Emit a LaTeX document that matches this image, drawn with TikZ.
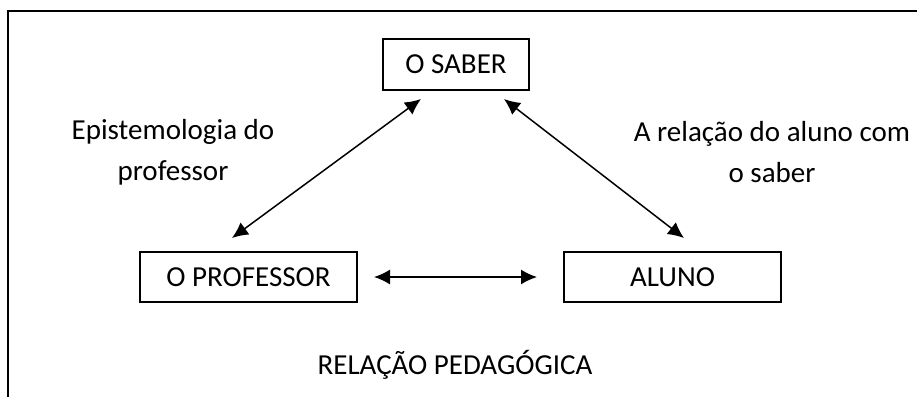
\documentclass[tikz,border=0pt]{standalone}
\usepackage{fontspec}
\setmainfont{Carlito}
\usetikzlibrary{arrows.meta}

\begin{document}
\begin{tikzpicture}
[x=1pt,y=-1pt,>={Latex[length=16pt,width=15pt]},
box/.style={draw,line width=2pt,inner sep=0pt,minimum height=50pt,minimum width=217pt},
link/.style={<->,line width=1.5pt},
font=\fontsize{29}{41}\selectfont,]

\useasboundingbox (0,0) rectangle (917,397);

%Frame (top and left edges only)
\draw[line width=2pt] (8,397) -- (8,11) -- (917,11);

%Boxes
\node (saber) at (456,64.5)[box,minimum width=146pt,minimum height=51pt] {O SABER};
\node (prof) at (248.5,277)[box] {O PROFESSOR};
\node (aluno) at (672.5,277)[box] {ALUNO};

%Arrows between the boxes
\draw[link] ([xshift=-16.5pt,yshift=13pt]prof.north) -- ([xshift=-35pt,yshift=-8pt]saber.south);
\draw[link] ([xshift=48pt,yshift=-8pt]saber.south) -- ([xshift=11.5pt,yshift=13pt]aluno.north);
\draw[link] ([xshift=16pt]prof.east) -- ([xshift=-26pt]aluno.west);

%Labels
\node (epist) at (173,152)[align=center] {Epistemologia do\\professor};
\node (rel) at (772,152)[align=center] {A relação do aluno com\\o saber};
\node (ped) at (455,365) {RELAÇÃO PEDAGÓGICA};

\end{tikzpicture}
\end{document}
